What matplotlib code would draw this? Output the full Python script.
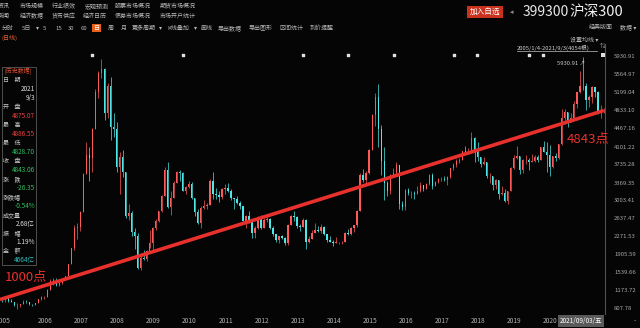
import matplotlib.pyplot as plt
from matplotlib.patches import Rectangle
import numpy as np

plt.rcParams['font.family'] = ['Noto Sans CJK SC', 'DejaVu Sans']

# monthly candles, Jan 2005 .. Sep 2021 (open = previous close)
close = [
    982, 1040, 970, 960, 880, 895, 905, 950, 945, 900, 895, 923,
    1010, 1050, 1060, 1200, 1380, 1400, 1300, 1330, 1410, 1470, 1720, 2041,
    2450, 2480, 2780, 3560, 3940, 3880, 4470, 5220, 5600, 5690, 4800, 5338,
    4500, 4470, 3700, 3900, 3600, 2700, 2760, 2380, 2290, 1650, 1850, 1817,
    1990, 2140, 2460, 2600, 2800, 3110, 3640, 2880, 3060, 3360, 3600, 3575,
    3200, 3280, 3350, 3070, 2780, 2560, 2870, 2900, 2930, 3400, 3140, 3128,
    3080, 3240, 3270, 3200, 3070, 3040, 2960, 2900, 2600, 2700, 2580, 2345,
    2460, 2630, 2450, 2620, 2630, 2460, 2330, 2210, 2290, 2250, 2140, 2522,
    2690, 2670, 2500, 2480, 2620, 2180, 2230, 2360, 2410, 2400, 2480, 2330,
    2210, 2180, 2150, 2160, 2160, 2170, 2350, 2330, 2450, 2510, 2810, 3533,
    3430, 3570, 4050, 4750, 5120, 4470, 3820, 3370, 3200, 3530, 3570, 3731,
    2950, 2880, 3220, 3160, 3170, 3150, 3200, 3320, 3250, 3340, 3540, 3310,
    3390, 3450, 3460, 3440, 3490, 3670, 3740, 3820, 3840, 4010, 4000, 4030,
    4280, 4020, 3900, 3760, 3800, 3510, 3520, 3330, 3440, 3150, 3170, 3010,
    3200, 3670, 3870, 3910, 3630, 3830, 3840, 3800, 3810, 3890, 3830, 4096,
    4000, 3940, 3690, 3910, 3870, 4160, 4700, 4820, 4590, 4700, 4980, 5211,
    5350, 5340, 5050, 5120, 5330, 5220, 4810, 4830, 4843,
]
high = [
    1000, 1060, 1040, 1010, 960, 935, 915, 990, 990, 950, 905, 935,
    1015, 1070, 1070, 1210, 1420, 1430, 1440, 1340, 1420, 1480, 1730, 2050,
    2520, 2560, 2790, 3570, 4200, 4100, 4490, 5280, 5640, 5892, 5700, 5400,
    5520, 4800, 4600, 4000, 4050, 3600, 2950, 2800, 2450, 2350, 1950, 2000,
    2000, 2420, 2480, 2630, 2810, 3130, 3700, 3803, 3200, 3400, 3610, 3630,
    3600, 3300, 3400, 3380, 3070, 2850, 2900, 3030, 2960, 3460, 3597, 3260,
    3200, 3260, 3340, 3360, 3250, 3060, 3110, 3010, 2900, 2720, 2810, 2590,
    2500, 2690, 2710, 2650, 2740, 2650, 2500, 2340, 2300, 2320, 2270, 2530,
    2720, 2790, 2700, 2540, 2650, 2630, 2300, 2420, 2550, 2500, 2540, 2500,
    2330, 2300, 2210, 2270, 2180, 2200, 2380, 2430, 2480, 2520, 2820, 3580,
    3650, 3620, 4060, 4780, 5200, 5380, 4550, 4100, 3420, 3560, 3670, 3790,
    3730, 3000, 3240, 3270, 3210, 3200, 3300, 3380, 3330, 3360, 3560, 3580,
    3400, 3480, 3500, 3520, 3510, 3680, 3780, 3850, 3870, 4020, 4120, 4080,
    4400, 4300, 4200, 3900, 3900, 3800, 3580, 3520, 3450, 3440, 3300, 3250,
    3210, 3690, 3940, 4127, 3910, 3850, 3940, 3880, 3960, 3940, 3940, 4110,
    4230, 4200, 4150, 3920, 3980, 4170, 4870, 4880, 4820, 4800, 5030, 5220,
    5650, 5931, 5400, 5150, 5350, 5330, 5240, 4950, 4887,
]
low = [
    960, 960, 960, 940, 870, 808, 850, 900, 930, 890, 870, 890,
    920, 1000, 1020, 1060, 1200, 1300, 1280, 1270, 1320, 1400, 1470, 1720,
    2000, 2240, 2400, 2780, 3560, 3400, 3600, 4470, 5100, 5500, 4650, 4700,
    4250, 4300, 3600, 3150, 3500, 2650, 2620, 2300, 2020, 1620, 1607, 1800,
    1780, 2040, 2000, 2410, 2580, 2780, 3100, 2860, 2710, 3060, 3360, 3400,
    3200, 3140, 3270, 3040, 2690, 2540, 2460, 2840, 2840, 2920, 3050, 3040,
    2990, 3050, 3150, 3190, 3020, 2850, 2950, 2840, 2590, 2450, 2560, 2260,
    2250, 2440, 2440, 2450, 2580, 2440, 2300, 2180, 2150, 2230, 2100, 2105,
    2520, 2600, 2450, 2400, 2480, 2023, 2140, 2240, 2360, 2380, 2350, 2310,
    2170, 2170, 2090, 2150, 2120, 2130, 2160, 2310, 2310, 2370, 2480, 2800,
    3380, 3370, 3560, 4050, 4520, 4100, 3530, 3020, 3100, 3150, 3490, 3550,
    2840, 2820, 2830, 3130, 3070, 3050, 3150, 3180, 3200, 3250, 3320, 3250,
    3300, 3370, 3420, 3420, 3330, 3480, 3640, 3700, 3780, 3840, 3950, 3950,
    4030, 3800, 3820, 3700, 3730, 3480, 3360, 3220, 3250, 3050, 3120, 2990,
    2935, 3200, 3650, 3850, 3550, 3580, 3750, 3630, 3800, 3800, 3800, 3840,
    4000, 3600, 3503, 3670, 3820, 3860, 4150, 4570, 4500, 4600, 4680, 4900,
    5200, 5250, 4860, 4920, 4990, 5120, 4780, 4700, 4800,
]
first_open = 994

trend_values = [1000, 4843]
years = list(range(2005, 2021))
y_labels = ['5930.91', '5564.97', '5199.04', '4833.10', '4467.16', '4101.22',
            '3735.28', '3369.35', '3003.41', '2637.47', '2271.53', '1905.59',
            '1539.66', '1173.72', '807.78']
marker_dates = [2007.53, 2010.05, 2013.37, 2014.62, 2015.89, 2017.56,
                2018.19, 2019.63, 2020.02]

W, H = 640, 328
BG = '#050505'
fig = plt.figure(figsize=(6.4, 3.28), dpi=100, facecolor=BG)

# pixel layout of the plot area
top_px, bot_px, right_px = 44, 314, 605
ax = fig.add_axes([0, (H - bot_px) / H, right_px / W, (bot_px - top_px) / H])
ax.set_facecolor(BG)
for s in ax.spines.values():
    s.set_visible(False)
ax.spines['right'].set_visible(True)
ax.spines['right'].set_color('#505050')
ax.spines['right'].set_linewidth(0.8)
ax.set_xticks([])
ax.set_yticks([])

# value scale: 5930.91 at y=57px, 365.94 per 18px
v_top, v_step, px_top, px_step = 5930.91, 365.94, 57, 18.0
per_px = v_step / px_step
ax.set_ylim(v_top - (bot_px - px_top) * per_px, v_top + (px_top - top_px) * per_px)
ax.set_xlim(2004.98, 2021.74)

n = len(close)
x = 2005 + (np.arange(n) + 0.5) / 12
opens = np.r_[first_open, close[:-1]]
cl = np.array(close)
up = cl >= opens
col = np.where(up, '#ff5a5a', '#4ce8e8')
ax.vlines(x, low, high, colors=col, linewidth=0.5, zorder=2)
ax.bar(x, np.where(np.abs(cl - opens) < 8, 8, cl - opens), bottom=opens,
       width=0.04, color=col, linewidth=0, zorder=3)

# trend line
ax.plot([2004.98, x[-1]], trend_values, color='#e8302c', linewidth=2.6,
        solid_capstyle='butt', zorder=4)

# info markers on top
ax.scatter(marker_dates, [0.96] * len(marker_dates), marker='s', s=3,
           color='#e0e0e0', transform=ax.get_xaxis_transform(), zorder=5)


def T(xp, yp, s, size=4.3, color='#b8b8b8', ha='left', **kw):
    return fig.text(xp / W, 1 - yp / H, s, fontsize=size, color=color,
                    ha=ha, va='center', **kw)


# menu rows
for xp, s in [(-2, '资讯'), (20, '市场规模'), (52, '行业绩效'), (85, '宏观预测'),
              (115, '股票市场概况'), (160, '期货市场概况')]:
    T(xp, 6, s)
for xp, s in [(-2, '新闻'), (20, '经济数据'), (52, '货币供应'), (83, '经济日历'),
              (115, '债券市场概况'), (160, '市场开户统计')]:
    T(xp, 16, s)
for xp, s in [(2, '分时'), (22, '5日'), (36, '▾'), (43, '5'), (55, '15'),
              (68, '30'), (81, '60'), (108, '周'), (121, '月'), (132, '更多周期'),
              (159, '▾'), (167, 'K线叠加'), (194, '▾'), (200, '画线'),
              (218, '导出数据'), (249, '导出图形'), (279, '区间统计'), (310, '到价提醒')]:
    T(xp, 28, s)
T(96.5, 28, '日', color='white', ha='center',
  bbox=dict(boxstyle='square,pad=0.25', fc='#e8601c', ec='none'))
T(2, 38, '(日线)', color='#e06030')

T(485, 12, '加入自选', size=5.5, color='white', ha='center',
  bbox=dict(boxstyle='square,pad=0.3', fc='#c8321e', ec='none'))
T(510, 12, '◂', size=5, color='#909090')
T(523, 12, '399300', size=10, color='#e8e8e8')
T(569, 12, '沪深300', size=10.5, color='#f0f0f0')
T(589, 27, '经典版面', size=4.3)
T(620, 27, '数据 ▾', size=4.3)
T(570, 40, '设置均线 ▾', size=4.3)
T(517, 47.5, '2005/1/4-2021/9/3(4054根)', size=4.2, color='#d0d0d0')
fig.add_artist(plt.Line2D([517 / W, 597 / W], [1 - 51 / H] * 2, color='#c0c0c0',
                          linewidth=0.5))
T(600, 46, '⇅', size=4, color='#c0c0c0')
fig.add_artist(Rectangle((601 / W, 1 - 57 / H), 4 / W, 4 / H, fc='#e0e0e0', ec='none'))
T(557, 63, '5930.91 ↗', size=4.2, color='#c8c8c8')

# right scale labels
for i, s in enumerate(y_labels):
    T(614, px_top + i * px_step, s, size=4.3, color='#a8a8a8')
T(634, 321, '-', size=5, color='#a8a8a8')

# year labels
for yr in years:
    xp = (yr - 2004.98) / (2021.74 - 2004.98) * right_px
    T(xp + 1 if yr > 2005 else xp - 5, 321, str(yr), size=4.8, color='#b0b0b0')
T(581, 321, '2021/09/03/五', size=4.6, color='white', ha='center',
  bbox=dict(boxstyle='square,pad=0.35', fc='#5a5a5a', ec='none'), zorder=10)

# info panel
fig.add_artist(Rectangle((2 / W, 1 - 265 / H), 34 / W, 198 / H, fill=False,
                         ec='#5a5a5a', lw=0.6))
T(18, 71, '[历史数据]', size=4.2, color='#e05030', ha='center')
rows = [('日    期', None, None), ('', '2021', '#e0e0e0'), ('', '9/3', '#e0e0e0'),
        ('开    盘', None, None), ('', '4875.07', '#e84040'),
        ('最    高', None, None), ('', '4886.55', '#e84040'),
        ('最    低', None, None), ('', '4828.70', '#30c060'),
        ('收    盘', None, None), ('', '4843.06', '#30c060'),
        ('涨    跌', None, None), ('', '-26.35', '#30c060'),
        ('涨跌幅', None, None), ('', '-0.54%', '#30c060'),
        ('成交量', None, None), ('', '2.68亿', '#e0e0e0'),
        ('振    幅', None, None), ('', '1.19%', '#e0e0e0'),
        ('金    额', None, None), ('', '4664亿', '#30c0c0')]
for i, (lab, val, c) in enumerate(rows):
    yp = 80 + i * 9
    if lab:
        T(3, yp, lab, size=4.3, color='#c8c8c8')
    else:
        T(35, yp, val, size=4.6, color=c, ha='right')

# annotations
T(5, 277, '1000点', size=9.5, color='#e8302c')
T(567, 139, '4843点', size=9.5, color='#e8302c')

fig.savefig('out.png', dpi=100, facecolor=BG)
